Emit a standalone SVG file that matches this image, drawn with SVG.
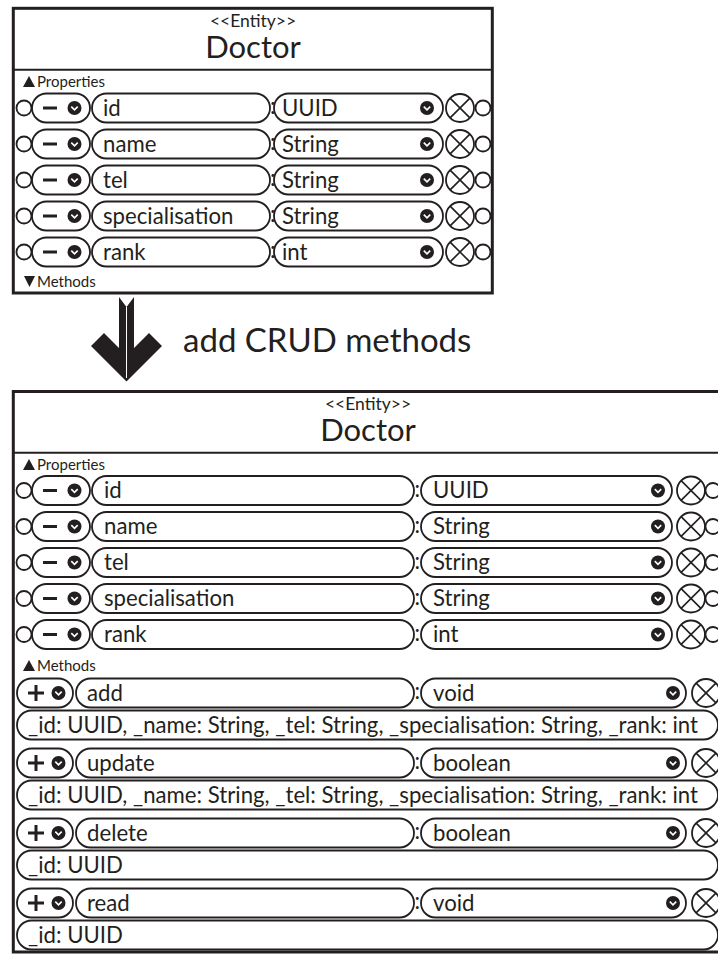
<svg xmlns="http://www.w3.org/2000/svg" xmlns:xlink="http://www.w3.org/1999/xlink" width="718" height="954" viewBox="0 0 718 954">
  <style>
    .frame{fill:#fff;stroke:#231f20;stroke-width:3}
    .rule{stroke:#231f20;stroke-width:2}
    .pill{fill:#fff;stroke:#231f20;stroke-width:1.8}
    .ink{fill:#231f20}
    .txt{font-family:Lato,"Open Sans",sans-serif;fill:#231f20}
    .row{font-size:22.2px}
    .sect{font-size:15px}
    .stereo{font-size:17.5px}
    .title{font-size:31px}
    .note{font-size:33px}
    .bar{stroke:#231f20;stroke-width:3}
  </style>
  <defs>
    <!-- filled dropdown knob -->
    <g id="knob">
      <circle r="7" class="ink"/>
      <polyline points="-3.2,-1.4 0,1.8 3.2,-1.4" fill="none" stroke="#fff" stroke-width="1.6"/>
    </g>
    <!-- remove button -->
    <g id="remove">
      <circle r="14" class="pill"/>
      <path d="M-9.9,-9.9L9.9,9.9M-9.9,9.9L9.9,-9.9" stroke="#231f20" stroke-width="1.6"/>
    </g>
    <!-- connection port -->
    <circle id="port" r="7.5" class="pill"/>
  </defs>

  <!-- transformation arrow -->
  <g id="transform-arrow">
    <path class="ink" d="M119,297 L126.5,307 L134,297 L134,348 L149,333 L162,346 L126.5,381.5 L91,346 L104,333 L119,348 Z"/>
    <line x1="126.5" y1="307" x2="126.5" y2="378" stroke="#fff" stroke-width="1"/>
    <text class="txt note" x="183" y="352">add CRUD methods</text>
  </g>

  <!-- entity before: properties only -->
  <g id="doctor-before">
    <rect class="frame" x="13.3" y="8.3" width="479" height="284.7"/>
    <line class="rule" x1="13.3" y1="69.7" x2="492.3" y2="69.7"/>
    <text class="txt stereo" x="253" y="27" text-anchor="middle">&lt;&lt;Entity&gt;&gt;</text>
    <text class="txt title" x="253" y="58" text-anchor="middle">Doctor</text>
    <polygon class="ink" points="23,87 35,87 29,76"/>
    <text class="txt sect" x="37" y="87">Properties</text>

    <g id="b-id" transform="translate(0,108)">
      <use xlink:href="#port" x="24"/>
      <rect class="pill" x="32" y="-14.5" width="58" height="29" rx="14.5"/>
      <line class="bar" x1="43" y1="0" x2="57" y2="0"/>
      <use xlink:href="#knob" x="74.5"/>
      <rect class="pill" x="92" y="-14.5" width="178" height="29" rx="14.5"/>
      <text class="txt row" x="103" y="7.5">id</text>
      <text class="txt row" x="270" y="6">:</text>
      <rect class="pill" x="274" y="-14.5" width="169" height="29" rx="14.5"/>
      <text class="txt row" x="282" y="7.5">UUID</text>
      <use xlink:href="#knob" x="427"/>
      <use xlink:href="#remove" x="460"/>
      <use xlink:href="#port" x="483"/>
    </g>
    <g id="b-name" transform="translate(0,144)">
      <use xlink:href="#port" x="24"/>
      <rect class="pill" x="32" y="-14.5" width="58" height="29" rx="14.5"/>
      <line class="bar" x1="43" y1="0" x2="57" y2="0"/>
      <use xlink:href="#knob" x="74.5"/>
      <rect class="pill" x="92" y="-14.5" width="178" height="29" rx="14.5"/>
      <text class="txt row" x="103" y="7.5">name</text>
      <text class="txt row" x="270" y="6">:</text>
      <rect class="pill" x="274" y="-14.5" width="169" height="29" rx="14.5"/>
      <text class="txt row" x="282" y="7.5">String</text>
      <use xlink:href="#knob" x="427"/>
      <use xlink:href="#remove" x="460"/>
      <use xlink:href="#port" x="483"/>
    </g>
    <g id="b-tel" transform="translate(0,180)">
      <use xlink:href="#port" x="24"/>
      <rect class="pill" x="32" y="-14.5" width="58" height="29" rx="14.5"/>
      <line class="bar" x1="43" y1="0" x2="57" y2="0"/>
      <use xlink:href="#knob" x="74.5"/>
      <rect class="pill" x="92" y="-14.5" width="178" height="29" rx="14.5"/>
      <text class="txt row" x="103" y="7.5">tel</text>
      <text class="txt row" x="270" y="6">:</text>
      <rect class="pill" x="274" y="-14.5" width="169" height="29" rx="14.5"/>
      <text class="txt row" x="282" y="7.5">String</text>
      <use xlink:href="#knob" x="427"/>
      <use xlink:href="#remove" x="460"/>
      <use xlink:href="#port" x="483"/>
    </g>
    <g id="b-specialisation" transform="translate(0,216)">
      <use xlink:href="#port" x="24"/>
      <rect class="pill" x="32" y="-14.5" width="58" height="29" rx="14.5"/>
      <line class="bar" x1="43" y1="0" x2="57" y2="0"/>
      <use xlink:href="#knob" x="74.5"/>
      <rect class="pill" x="92" y="-14.5" width="178" height="29" rx="14.5"/>
      <text class="txt row" x="103" y="7.5">specialisation</text>
      <text class="txt row" x="270" y="6">:</text>
      <rect class="pill" x="274" y="-14.5" width="169" height="29" rx="14.5"/>
      <text class="txt row" x="282" y="7.5">String</text>
      <use xlink:href="#knob" x="427"/>
      <use xlink:href="#remove" x="460"/>
      <use xlink:href="#port" x="483"/>
    </g>
    <g id="b-rank" transform="translate(0,252)">
      <use xlink:href="#port" x="24"/>
      <rect class="pill" x="32" y="-14.5" width="58" height="29" rx="14.5"/>
      <line class="bar" x1="43" y1="0" x2="57" y2="0"/>
      <use xlink:href="#knob" x="74.5"/>
      <rect class="pill" x="92" y="-14.5" width="178" height="29" rx="14.5"/>
      <text class="txt row" x="103" y="7.5">rank</text>
      <text class="txt row" x="270" y="6">:</text>
      <rect class="pill" x="274" y="-14.5" width="169" height="29" rx="14.5"/>
      <text class="txt row" x="282" y="7.5">int</text>
      <use xlink:href="#knob" x="427"/>
      <use xlink:href="#remove" x="460"/>
      <use xlink:href="#port" x="483"/>
    </g>

    <polygon class="ink" points="24,276 35,276 29.5,287"/>
    <text class="txt sect" x="37" y="287">Methods</text>
  </g>

  <!-- entity after: properties and CRUD methods -->
  <g id="doctor-after">
    <rect class="frame" x="13.3" y="391.5" width="710" height="560.5"/>
    <line class="rule" x1="13.3" y1="452.8" x2="723" y2="452.8"/>
    <text class="txt stereo" x="368" y="410" text-anchor="middle">&lt;&lt;Entity&gt;&gt;</text>
    <text class="txt title" x="368" y="441" text-anchor="middle">Doctor</text>
    <polygon class="ink" points="23,470 35,470 29,459"/>
    <text class="txt sect" x="37" y="470">Properties</text>

    <g id="a-id" transform="translate(0,490.5)">
      <use xlink:href="#port" x="24"/>
      <rect class="pill" x="32" y="-14.5" width="58" height="29" rx="14.5"/>
      <line class="bar" x1="43" y1="0" x2="57" y2="0"/>
      <use xlink:href="#knob" x="74.5"/>
      <rect class="pill" x="92" y="-14.5" width="322" height="29" rx="14.5"/>
      <text class="txt row" x="104" y="7.5">id</text>
      <text class="txt row" x="414.5" y="6">:</text>
      <rect class="pill" x="421" y="-14.5" width="251" height="29" rx="14.5"/>
      <text class="txt row" x="433" y="7.5">UUID</text>
      <use xlink:href="#knob" x="658"/>
      <use xlink:href="#remove" x="691"/>
      <use xlink:href="#port" x="713"/>
    </g>
    <g id="a-name" transform="translate(0,526.5)">
      <use xlink:href="#port" x="24"/>
      <rect class="pill" x="32" y="-14.5" width="58" height="29" rx="14.5"/>
      <line class="bar" x1="43" y1="0" x2="57" y2="0"/>
      <use xlink:href="#knob" x="74.5"/>
      <rect class="pill" x="92" y="-14.5" width="322" height="29" rx="14.5"/>
      <text class="txt row" x="104" y="7.5">name</text>
      <text class="txt row" x="414.5" y="6">:</text>
      <rect class="pill" x="421" y="-14.5" width="251" height="29" rx="14.5"/>
      <text class="txt row" x="433" y="7.5">String</text>
      <use xlink:href="#knob" x="658"/>
      <use xlink:href="#remove" x="691"/>
      <use xlink:href="#port" x="713"/>
    </g>
    <g id="a-tel" transform="translate(0,562.5)">
      <use xlink:href="#port" x="24"/>
      <rect class="pill" x="32" y="-14.5" width="58" height="29" rx="14.5"/>
      <line class="bar" x1="43" y1="0" x2="57" y2="0"/>
      <use xlink:href="#knob" x="74.5"/>
      <rect class="pill" x="92" y="-14.5" width="322" height="29" rx="14.5"/>
      <text class="txt row" x="104" y="7.5">tel</text>
      <text class="txt row" x="414.5" y="6">:</text>
      <rect class="pill" x="421" y="-14.5" width="251" height="29" rx="14.5"/>
      <text class="txt row" x="433" y="7.5">String</text>
      <use xlink:href="#knob" x="658"/>
      <use xlink:href="#remove" x="691"/>
      <use xlink:href="#port" x="713"/>
    </g>
    <g id="a-specialisation" transform="translate(0,598.5)">
      <use xlink:href="#port" x="24"/>
      <rect class="pill" x="32" y="-14.5" width="58" height="29" rx="14.5"/>
      <line class="bar" x1="43" y1="0" x2="57" y2="0"/>
      <use xlink:href="#knob" x="74.5"/>
      <rect class="pill" x="92" y="-14.5" width="322" height="29" rx="14.5"/>
      <text class="txt row" x="104" y="7.5">specialisation</text>
      <text class="txt row" x="414.5" y="6">:</text>
      <rect class="pill" x="421" y="-14.5" width="251" height="29" rx="14.5"/>
      <text class="txt row" x="433" y="7.5">String</text>
      <use xlink:href="#knob" x="658"/>
      <use xlink:href="#remove" x="691"/>
      <use xlink:href="#port" x="713"/>
    </g>
    <g id="a-rank" transform="translate(0,634.5)">
      <use xlink:href="#port" x="24"/>
      <rect class="pill" x="32" y="-14.5" width="58" height="29" rx="14.5"/>
      <line class="bar" x1="43" y1="0" x2="57" y2="0"/>
      <use xlink:href="#knob" x="74.5"/>
      <rect class="pill" x="92" y="-14.5" width="322" height="29" rx="14.5"/>
      <text class="txt row" x="104" y="7.5">rank</text>
      <text class="txt row" x="414.5" y="6">:</text>
      <rect class="pill" x="421" y="-14.5" width="251" height="29" rx="14.5"/>
      <text class="txt row" x="433" y="7.5">int</text>
      <use xlink:href="#knob" x="658"/>
      <use xlink:href="#remove" x="691"/>
      <use xlink:href="#port" x="713"/>
    </g>

    <polygon class="ink" points="23,671 35,671 29,660"/>
    <text class="txt sect" x="37" y="671">Methods</text>

    <g id="m-add" transform="translate(0,693)">
      <rect class="pill" x="17" y="-14.5" width="56" height="29" rx="14.5"/>
      <path class="bar" d="M28,0H44M36,-8V8"/>
      <use xlink:href="#knob" x="58.5"/>
      <rect class="pill" x="76" y="-14.5" width="338" height="29" rx="14.5"/>
      <text class="txt row" x="87" y="7.5">add</text>
      <text class="txt row" x="414.5" y="6">:</text>
      <rect class="pill" x="421" y="-14.5" width="265" height="29" rx="14.5"/>
      <text class="txt row" x="433" y="7.5">void</text>
      <use xlink:href="#knob" x="673"/>
      <use xlink:href="#remove" x="706"/>
      <rect class="pill" x="17" y="17.5" width="701" height="29" rx="14.5"/>
      <text class="txt row" x="28" y="39.5">_id: UUID, _name: String, _tel: String, _specialisation: String, _rank: int</text>
    </g>
    <g id="m-update" transform="translate(0,763)">
      <rect class="pill" x="17" y="-14.5" width="56" height="29" rx="14.5"/>
      <path class="bar" d="M28,0H44M36,-8V8"/>
      <use xlink:href="#knob" x="58.5"/>
      <rect class="pill" x="76" y="-14.5" width="338" height="29" rx="14.5"/>
      <text class="txt row" x="87" y="7.5">update</text>
      <text class="txt row" x="414.5" y="6">:</text>
      <rect class="pill" x="421" y="-14.5" width="265" height="29" rx="14.5"/>
      <text class="txt row" x="433" y="7.5">boolean</text>
      <use xlink:href="#knob" x="673"/>
      <use xlink:href="#remove" x="706"/>
      <rect class="pill" x="17" y="17.5" width="701" height="29" rx="14.5"/>
      <text class="txt row" x="28" y="39.5">_id: UUID, _name: String, _tel: String, _specialisation: String, _rank: int</text>
    </g>
    <g id="m-delete" transform="translate(0,833)">
      <rect class="pill" x="17" y="-14.5" width="56" height="29" rx="14.5"/>
      <path class="bar" d="M28,0H44M36,-8V8"/>
      <use xlink:href="#knob" x="58.5"/>
      <rect class="pill" x="76" y="-14.5" width="338" height="29" rx="14.5"/>
      <text class="txt row" x="87" y="7.5">delete</text>
      <text class="txt row" x="414.5" y="6">:</text>
      <rect class="pill" x="421" y="-14.5" width="265" height="29" rx="14.5"/>
      <text class="txt row" x="433" y="7.5">boolean</text>
      <use xlink:href="#knob" x="673"/>
      <use xlink:href="#remove" x="706"/>
      <rect class="pill" x="17" y="17.5" width="701" height="29" rx="14.5"/>
      <text class="txt row" x="28" y="39.5">_id: UUID</text>
    </g>
    <g id="m-read" transform="translate(0,903)">
      <rect class="pill" x="17" y="-14.5" width="56" height="29" rx="14.5"/>
      <path class="bar" d="M28,0H44M36,-8V8"/>
      <use xlink:href="#knob" x="58.5"/>
      <rect class="pill" x="76" y="-14.5" width="338" height="29" rx="14.5"/>
      <text class="txt row" x="87" y="7.5">read</text>
      <text class="txt row" x="414.5" y="6">:</text>
      <rect class="pill" x="421" y="-14.5" width="265" height="29" rx="14.5"/>
      <text class="txt row" x="433" y="7.5">void</text>
      <use xlink:href="#knob" x="673"/>
      <use xlink:href="#remove" x="706"/>
      <rect class="pill" x="17" y="17.5" width="701" height="29" rx="14.5"/>
      <text class="txt row" x="28" y="39.5">_id: UUID</text>
    </g>
  </g>
</svg>
